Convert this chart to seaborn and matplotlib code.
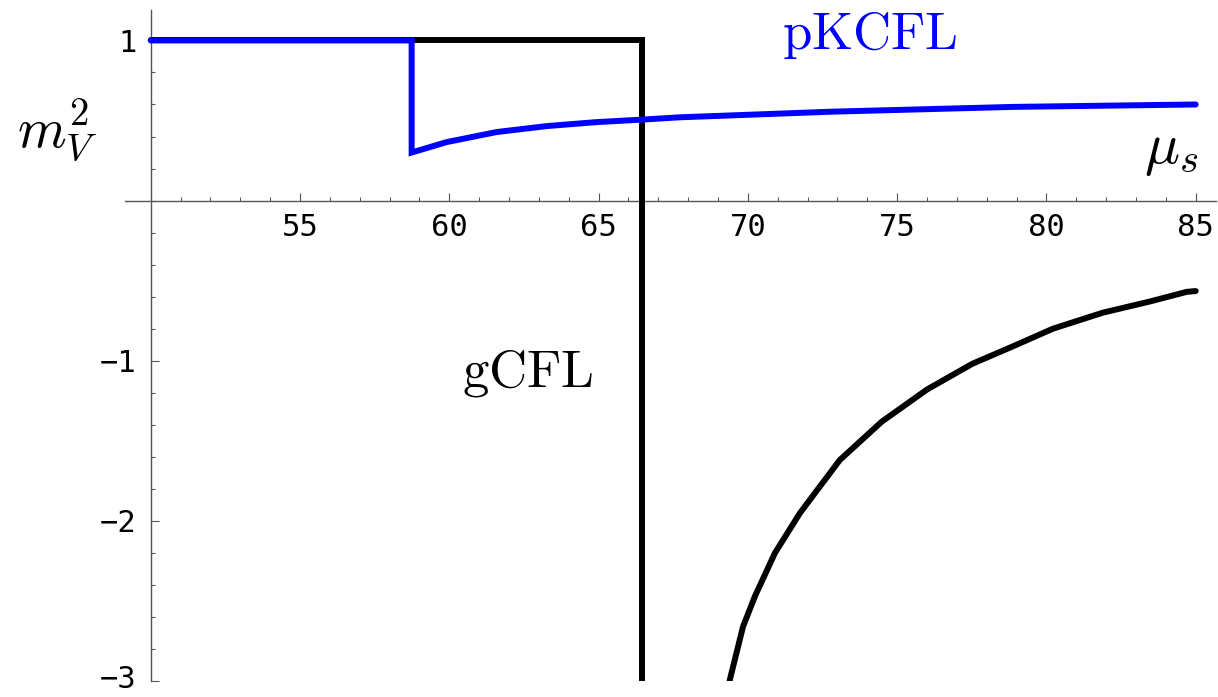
import matplotlib
matplotlib.use("Agg")
import matplotlib.pyplot as plt
from matplotlib.ticker import FixedLocator, MultipleLocator
from matplotlib.transforms import ScaledTranslation
import pandas as pd
import seaborn as sns

# gCFL branch 1: flat at 1, then vertical drop at the transition
gcfl_mu = [50.0, 66.44, 66.44]
gcfl_m2 = [1.0, 1.0, -3.3]

# gCFL branch 2: comes back up from below -3
gcfl2_mu = [69.33, 69.40, 69.84, 70.24, 70.91, 71.75, 73.08, 74.49,
            76.00, 77.51, 78.88, 80.22, 81.89, 83.47, 84.70, 85.0]
gcfl2_m2 = [-3.1, -2.99, -2.66, -2.47, -2.20, -1.95, -1.62, -1.38,
            -1.18, -1.02, -0.91, -0.80, -0.70, -0.63, -0.57, -0.565]

# pKCFL (blue)
pk_mu = [50.0, 58.74, 58.74, 59.91, 61.59, 63.26, 64.94, 66.40, 67.73,
         72.80, 78.90, 85.0]
pk_m2 = [1.0, 1.0, 0.30, 0.365, 0.428, 0.465, 0.49, 0.505, 0.52,
         0.555, 0.585, 0.60]

x_major = [55, 60, 65, 70, 75, 80, 85]
y_major = [-3, -2, -1, 1]

sns.set_theme(style="white")
plt.rcParams["mathtext.fontset"] = "cm"
plt.rcParams["text.color"] = "black"

fig = plt.figure(figsize=(12.18, 6.97), dpi=100)
ax = fig.add_axes([125 / 1218, 16 / 697, (1216 - 125) / 1218, (681 - 10) / 697])

line_kw = dict(sort=False, estimator=None, linewidth=4.3, ax=ax, legend=False)
sns.lineplot(data=pd.DataFrame({"mu": gcfl_mu, "m2": gcfl_m2}), x="mu", y="m2",
             color="black", **line_kw)
sns.lineplot(data=pd.DataFrame({"mu": gcfl2_mu, "m2": gcfl2_m2}), x="mu", y="m2",
             color="black", **line_kw)
sns.lineplot(data=pd.DataFrame({"mu": pk_mu, "m2": pk_m2}), x="mu", y="m2",
             color="#0000ff", **line_kw)
for ln in ax.lines:
    ln.set_solid_capstyle("round")
    ln.set_solid_joinstyle("miter")

ax.set_xlim(49.14, 85.68)
ax.set_ylim(-3.0, 1.19)
ax.set_xlabel("")
ax.set_ylabel("")

# axes crossing at (50, 0), Mathematica style
ax.spines["left"].set_position(("data", 50))
ax.spines["bottom"].set_position(("data", 0))
ax.spines["top"].set_visible(False)
ax.spines["right"].set_visible(False)
for s in ("left", "bottom"):
    ax.spines[s].set_color("#555555")
    ax.spines[s].set_linewidth(1.0)
    ax.spines[s].set_zorder(0.5)

ax.xaxis.set_major_locator(FixedLocator(x_major))
ax.xaxis.set_minor_locator(MultipleLocator(1))
ax.yaxis.set_major_locator(FixedLocator(y_major))
ax.yaxis.set_minor_locator(MultipleLocator(0.2))
ax.tick_params(which="both", direction="in", color="#555555", width=0.8,
               bottom=True, left=True)
ax.tick_params(which="major", length=5.5)
ax.tick_params(which="minor", length=3)
ax.tick_params(axis="x", which="major", pad=9)
ax.tick_params(axis="y", which="major", pad=10)
for lab in ax.get_xticklabels() + ax.get_yticklabels():
    lab.set_fontfamily("DejaVu Sans Mono")
    lab.set_fontsize(22)
    lab.set_color("black")

# nudge the -3 label up a little so it stays inside the picture
tick = ax.yaxis.get_major_ticks()[0]
tick.label1.set_transform(tick.label1.get_transform()
                          + ScaledTranslation(0, 4 / 100, fig.dpi_scale_trans))

ax.text(74.09, 0.948, r"$\mathrm{pKCFL}$", color="#0000ff", fontsize=38,
        ha="center", va="baseline")
ax.text(62.64, -1.158, r"$\mathrm{gCFL}$", color="black", fontsize=38,
        ha="center", va="baseline")
fig.text(57 / 1218, 1 - 131 / 697, r"$m_V^2$", fontsize=40, color="black",
         ha="center", va="center")
fig.text(1171 / 1218, 1 - 150 / 697, r"$\mu_s$", fontsize=42, color="black",
         ha="center", va="center")

fig.savefig("out.png", dpi=100)
